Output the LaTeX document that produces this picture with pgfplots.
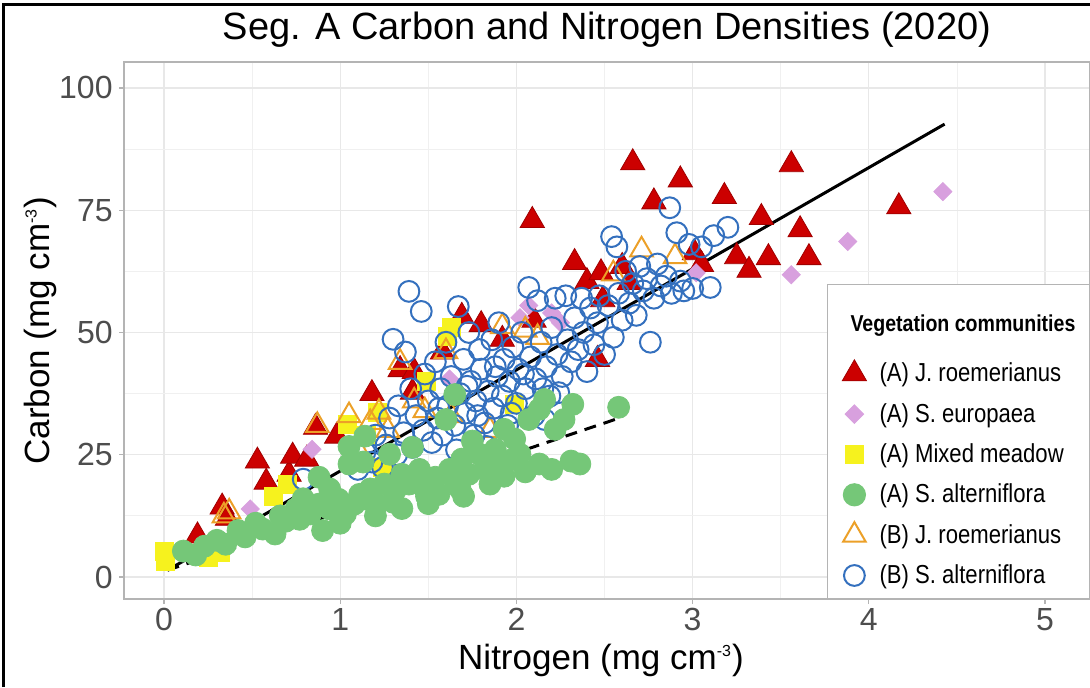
\documentclass[border=0pt]{standalone}
\usepackage{fontspec}
\setmainfont{Liberation Sans}
\newfontfamily\narrowfont[FakeStretch=0.85]{Liberation Sans}
\usepackage{pgfplots}
\pgfplotsset{compat=1.18}
\definecolor{cRed}{RGB}{204,0,0}
\definecolor{cRedD}{RGB}{160,0,0}
\definecolor{cViolet}{RGB}{216,160,222}
\definecolor{cYellow}{RGB}{246,242,30}
\definecolor{cGreen}{RGB}{117,199,120}
\definecolor{cOrange}{RGB}{236,160,40}
\definecolor{cBlue}{RGB}{52,112,190}
\definecolor{cGrid}{RGB}{232,232,232}
\definecolor{cGridMinor}{RGB}{240,240,240}
\definecolor{cBorder}{RGB}{180,180,180}
\definecolor{cTick}{RGB}{77,77,77}
\pgfplotsset{
 redtri/.style={only marks, mark=triangle*, mark size=7pt, mark options={fill=cRed, draw=cRedD, line width=0.4pt}},
 viodia/.style={only marks, mark=square*, mark size=3.2pt, mark options={rotate=45, fill=cViolet, draw=cViolet}},
 yelsq/.style={only marks, mark=square*, mark size=4.5pt, mark options={fill=cYellow, draw=cYellow}},
 grncirc/.style={only marks, mark=*, mark size=5.5pt, mark options={fill=cGreen, draw=cGreen}},
 ortri/.style={only marks, mark=triangle, mark size=6.5pt, mark options={draw=cOrange, line width=1pt}},
 blcirc/.style={only marks, mark=o, mark size=5.2pt, mark options={draw=cBlue, line width=1pt}},
}
\newcommand{\supm}{\textsuperscript{\fontsize{8}{8}\selectfont -3}}
\begin{document}
\begin{tikzpicture}
\path[use as bounding box] (0,0) rectangle (545pt,343.5pt);
\begin{axis}[
 at={(62pt,44pt)}, anchor=south west,
 scale only axis, width=483pt, height=268.5pt,
 xmin=-0.227, xmax=5.255, ymin=-4.5, ymax=105.3,
 xtick={0,1,2,3,4,5}, ytick={0,25,50,75,100},
 minor x tick num=1, minor y tick num=1,
 grid=both,
 major grid style={cGrid, line width=0.6pt},
 minor grid style={cGridMinor, line width=0.4pt},
 axis line style={cBorder, line width=0.7pt},
 tick align=outside, major tick length=2.5pt, minor tick length=0pt,
 tick style={cBorder, line width=0.6pt},
 xtick pos=bottom, ytick pos=left,
 /pgf/number format/assume math mode=true,
 ticklabel style={font=\fontsize{16}{18}\selectfont, color=cTick},
 xticklabel style={inner sep=2pt},
 yticklabel style={inner sep=3pt},
 title={Seg. A Carbon and Nitrogen Densities (2020)},
 every axis title/.style={at={(0.5,1)}, anchor=center, yshift=16pt, font=\fontsize{19}{22}\selectfont},
 xlabel={Nitrogen (mg cm\supm)},
 ylabel={Carbon (mg cm\supm)},
 every axis x label/.style={at={(rel axis cs:0.5,0)}, anchor=center, yshift=-30.5pt, xshift=-3pt, font=\fontsize{17.5}{21}\selectfont},
 every axis y label/.style={at={(rel axis cs:0,0.5)}, anchor=center, xshift=-42pt, rotate=90, font=\fontsize{17.5}{21}\selectfont},
 legend cell align=left,
 legend style={at={(1,0)}, anchor=south east, draw=cBorder, line width=0.6pt, fill=white,
   font=\narrowfont\fontsize{13}{15}\selectfont, row sep=5.25pt, inner xsep=5pt, inner ysep=4pt,
   /tikz/every odd column/.append style={column sep=4.5pt}},
]
% (A) J. roemerianus
\addplot[redtri, forget plot] coordinates {
(0.19,8.4) (0.33,14.3) (0.36,12.0) (0.53,23.7) (0.58,19.4) (0.71,21.0) (0.73,24.7) (0.81,24.1)
(0.86,30.6) (0.98,28.8) (1.18,37.5) (1.34,42.4) (1.42,42.0) (1.41,37.8) (1.58,46.0) (1.69,53.3)
(1.80,51.6) (1.92,48.6) (2.10,52.5) (2.46,44.5) (2.49,56.7) (2.33,64.3) (2.40,60.4) (2.48,62.2)
(2.60,63.5) (2.64,60.2) (3.01,66.3) (3.05,63.9) (2.09,72.9) (2.66,84.7) (3.56,84.3) (2.93,81.2)
(3.18,77.8) (2.78,76.7) (3.39,73.5) (3.61,71.0) (3.25,65.5) (3.43,65.3) (3.66,65.3) (3.32,62.7)
(4.17,75.7)
};
% (A) S. europaea
\addplot[viodia, forget plot] coordinates {
(0.49,13.9) (0.84,26.1) (1.62,40.5) (2.02,53.0) (2.07,55.5) (2.20,54.0) (2.25,52.0)
(3.02,62.2) (3.56,61.8) (3.88,68.6) (4.42,78.8)
};
% (A) Mixed meadow
\addplot[yelsq, forget plot] coordinates {
(0.00,5.3) (0.01,3.2) (0.32,5.1) (0.25,4.0) (0.62,16.5) (0.70,19.0) (1.04,31.2) (1.21,33.7)
(1.49,40.0) (1.61,49.2) (1.63,51.0) (1.24,22.4) (1.99,35.3) (1.15,29.0)
};
% (B) J. roemerianus
\addplot[ortri, forget plot] coordinates {
(0.37,13.3) (0.34,12.5) (0.87,31.0) (1.05,33.0) (1.17,31.6) (1.22,33.7) (1.27,30.0) (1.10,26.0)
(1.34,43.9) (1.60,46.1) (1.42,36.0) (1.48,34.0) (1.92,51.2) (2.05,50.5) (2.71,66.9) (2.12,49.0)
(1.85,30.0) (1.63,33.0) (2.90,65.5) (2.55,62.0)
};
% (B) S. alterniflora
\addplot[blcirc, forget plot] coordinates {
(1.10,22.0) (1.14,25.5) (1.18,23.5) (1.20,29.0) (1.24,22.4) (1.26,27.0) (1.28,32.5) (1.30,48.6)
(1.32,25.0) (1.33,35.0) (1.36,29.5) (1.37,46.0) (1.39,58.4) (1.40,38.5) (1.41,26.5) (1.43,33.0)
(1.46,54.3) (1.47,30.0) (1.48,41.5) (1.50,36.0) (1.52,27.5) (1.54,44.0) (1.55,32.5) (1.57,38.5)
(1.58,29.0) (1.60,48.0) (1.61,35.0) (1.63,41.0) (1.65,31.0) (1.66,26.0) (1.67,55.3) (1.68,37.5)
(1.70,44.5) (1.71,33.5) (1.73,50.0) (1.74,40.0) (1.76,29.0) (1.77,36.0) (1.79,46.5) (1.80,42.5)
(1.82,31.5) (1.83,26.7) (1.84,38.0) (1.86,48.5) (1.87,34.5) (1.89,41.0) (1.90,52.0) (1.92,37.0)
(1.93,44.5) (1.95,31.0) (1.96,40.0) (1.98,47.0) (2.00,35.5) (2.01,42.5) (2.03,50.0) (2.05,38.5)
(2.07,59.2) (2.08,45.0) (2.10,33.0) (2.11,40.5) (2.12,56.5) (2.14,48.0) (2.16,32.2) (2.17,43.0)
(2.19,37.0) (2.20,51.0) (2.22,57.0) (2.23,45.5) (2.24,37.7) (2.26,41.0) (2.28,57.5) (2.29,48.5)
(2.31,44.0) (2.33,53.0) (2.35,46.5) (2.37,57.0) (2.38,50.0) (2.40,42.0) (2.42,55.0) (2.44,47.5)
(2.46,52.0) (2.47,57.5) (2.50,45.5) (2.52,55.5) (2.54,69.6) (2.55,49.0) (2.57,67.5) (2.58,58.0)
(2.60,52.5) (2.62,62.5) (2.64,56.0) (2.66,60.0) (2.68,53.5) (2.70,63.5) (2.72,58.5) (2.74,61.0)
(2.76,48.0) (2.78,57.0) (2.80,64.0) (2.82,59.5) (2.85,61.5) (2.87,75.5) (2.88,58.0) (2.91,70.4)
(2.93,60.5) (2.95,58.5) (2.98,68.0) (3.00,59.0) (3.05,67.5) (3.10,59.2) (3.12,69.8) (3.20,71.5)
(0.79,20.0) (1.56,34.5) (1.72,39.0) (1.88,43.0) (2.04,41.5) (1.97,33.5) (2.15,38.5) (1.78,33.0)
};
% (A) S. alterniflora
\addplot[grncirc, forget plot] coordinates {
(0.11,5.3) (0.18,4.5) (0.23,6.3) (0.30,7.5) (0.35,6.7) (0.42,9.5) (0.46,8.2) (0.52,11.0)
(0.56,9.8) (0.63,8.8) (0.66,12.5) (0.69,11.4) (0.75,14.0) (0.77,11.8) (0.79,16.0) (0.83,12.9)
(0.88,14.9) (0.88,20.4) (0.90,9.5) (0.94,13.9) (0.94,18.0) (0.99,15.9) (1.00,11.0) (1.03,12.9)
(1.05,23.1) (1.05,26.7) (1.08,14.9) (1.11,16.9) (1.13,23.5) (1.14,28.8) (1.15,15.9) (1.17,18.0)
(1.20,12.5) (1.21,14.9) (1.25,19.0) (1.28,25.1) (1.30,15.3) (1.31,17.6) (1.35,21.0) (1.35,14.0)
(1.39,19.0) (1.41,26.5) (1.45,22.0) (1.48,18.0) (1.49,16.5) (1.50,15.0) (1.54,20.4) (1.56,16.9)
(1.60,32.2) (1.62,22.0) (1.65,19.4) (1.65,37.3) (1.68,18.0) (1.69,24.1) (1.70,16.5) (1.73,21.0)
(1.75,27.8) (1.79,25.1) (1.82,22.0) (1.85,19.0) (1.88,26.1) (1.90,23.1) (1.93,30.2) (1.93,20.6)
(1.98,24.1) (1.99,28.2) (2.02,25.1) (2.05,21.5) (2.07,32.2) (2.13,34.3) (2.13,23.1) (2.16,36.3)
(2.20,22.0) (2.22,30.2) (2.27,32.2) (2.31,23.7) (2.32,35.3) (2.36,23.1) (2.58,34.7)
};
% regression lines
\addplot[black, line width=1.5pt, forget plot] coordinates {(0.02,1.4) (4.43,92.6)};
\addplot[black, line width=1.5pt, dash pattern=on 6pt off 4pt, forget plot] coordinates {(0.02,1.4) (2.60,32.7)};
% legend
\addlegendimage{empty legend}
\addlegendentry{\hspace{-14.5pt}\rule[-14.5pt]{0pt}{37pt}\raisebox{5pt}{\fontsize{11.5}{13}\selectfont\bfseries Vegetation communities}}
\addlegendimage{redtri}
\addlegendentry{(A) J. roemerianus}
\addlegendimage{viodia}
\addlegendentry{(A) S. europaea}
\addlegendimage{yelsq}
\addlegendentry{(A) Mixed meadow}
\addlegendimage{grncirc}
\addlegendentry{(A) S. alterniflora}
\addlegendimage{ortri}
\addlegendentry{(B) J. roemerianus}
\addlegendimage{blcirc}
\addlegendentry{(B) S. alterniflora}
\end{axis}
\draw[black, line width=1.5pt] (1.5pt,0) -- (1.5pt,341pt) -- (545pt,341pt);
\end{tikzpicture}
\end{document}
